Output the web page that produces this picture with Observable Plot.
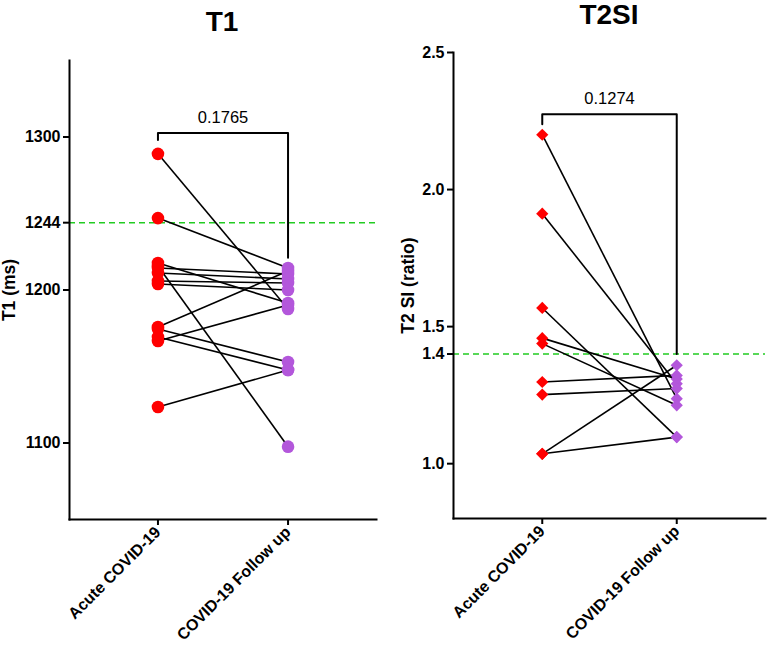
<!DOCTYPE html>
<html><head><meta charset="utf-8">
<script src="https://cdn.jsdelivr.net/npm/d3@7"></script>
<script src="https://cdn.jsdelivr.net/npm/@observablehq/plot@0.6"></script>
<style>
body{margin:0;background:#fff;}
#wrap{position:relative;width:767px;height:653px;font-family:"Liberation Sans",Arial,sans-serif;overflow:hidden;}
.panel{position:absolute;top:0;}
.title{position:absolute;font-weight:bold;font-size:28px;line-height:1;transform:translateX(-50%);white-space:nowrap;}
</style></head><body>
<div id="wrap">
  <div class="title" id="t1title" style="left:222px;top:8px;">T1</div>
  <div class="title" id="t2title" style="left:609px;top:1px;">T2SI</div>
</div>
<script>
// ---- data ----
const categories = ["Acute COVID-19", "COVID-19 Follow up"];

const t1Acute  = [1289, 1247, 1217.6, 1215.7, 1214.4, 1211.1, 1205.9, 1203.9, 1175.8, 1174.5, 1169.3, 1166.7, 1123.5];
const t1Follow = [1187.6, 1214.4, 1191.5, 1097.6, 1210.5, 1207.2, 1204.6, 1200, 1212.4, 1152.9, 1147.7, 1190.2, 1147.7];
const t1Ticks = [1100, 1200, 1244, 1300];
const t1Ref = 1244;
const t1P = "0.1765";
const t1Bracket = [1298, 1302.6, 1221]; // left leg end, top, right leg end

const t2Acute  = [2.20, 1.912, 1.568, 1.458, 1.438, 1.298, 1.252, 1.036, 1.036];
const t2Follow = [1.237, 1.292, 1.097, 1.309, 1.213, 1.322, 1.274, 1.359, 1.097];
const t2Ticks = [1.0, 1.4, 1.5, 2.0, 2.5];
const t2Ref = 1.4;
const t2P = "0.1274";
const t2Bracket = [2.238, 2.275, 1.40];

const RED = "#ff0000", PURPLE = "#b357db", GREEN = "#22cc22";

function panel(o) {
  const pairs = o.acute.map((a, i) => ({a, f: o.follow[i]}));
  const pts = [
    ...o.acute.map(v => ({x: 0, y: v, g: "a"})),
    ...o.follow.map(v => ({x: 1, y: v, g: "f"}))
  ];
  const br = [
    {x: 0, y: o.bracket[0]}, {x: 0, y: o.bracket[1]},
    {x: 1, y: o.bracket[1]}, {x: 1, y: o.bracket[2]}
  ];
  return Plot.plot({
    width: o.width, height: 653,
    marginLeft: o.marginLeft, marginRight: o.marginRight,
    marginTop: o.marginTop, marginBottom: o.marginBottom,
    style: {fontFamily: '"Liberation Sans", Arial, sans-serif', fontSize: "16px", background: "transparent", overflow: "visible"},
    x: {domain: [-o.pad, 1 + o.pad]},
    y: {domain: o.yDomain},
    marks: [
      Plot.ruleY([o.ref], {stroke: GREEN, strokeWidth: 1.5, strokeDasharray: "6,4"}),
      Plot.link(pairs, {x1: () => 0, x2: () => 1, y1: "a", y2: "f", stroke: "black", strokeWidth: 1.6}),
      Plot.dot(pts, {x: "x", y: "y", r: o.r, symbol: o.symbol, fill: d => d.g === "a" ? RED : PURPLE, stroke: "none"}),
      Plot.line(br, {x: "x", y: "y", stroke: "black", strokeWidth: 2}),
      Plot.text([o.p], {x: () => 0.5, y: () => o.bracket[1], dy: -15, fontSize: 16.5, fontWeight: "normal", fill: "black"}),
      Plot.frame({anchor: "left", strokeWidth: 2}),
      Plot.frame({anchor: "bottom", strokeWidth: 2}),
      Plot.axisY({ticks: o.ticks, tickFormat: o.fmt, tickSize: 6, tickPadding: 3, strokeWidth: 2, fontWeight: "bold", fontSize: 16, label: null}),
      Plot.axisX({ticks: [0, 1], tickFormat: i => categories[i], tickRotate: -45, tickSize: 6, tickPadding: 4, strokeWidth: 2, fontWeight: "bold", fontSize: 16, label: null}),
      Plot.text([o.yLabel], {frameAnchor: "left", dx: o.labelDx, rotate: -90, textAnchor: "middle", fontWeight: "bold", fontSize: 17.5, fill: "black"})
    ]
  });
}

const p1 = panel({
  acute: t1Acute, follow: t1Follow, ticks: t1Ticks, fmt: d => String(d), ref: t1Ref,
  yDomain: [1050, 1350], p: t1P, bracket: t1Bracket, yLabel: "T1 (ms)",
  width: 384, marginLeft: 69, marginRight: 8, marginTop: 60, marginBottom: 134,
  pad: 0.68, r: 6.3, symbol: "circle", labelDx: -60
});
const p2 = panel({
  acute: t2Acute, follow: t2Follow, ticks: t2Ticks, fmt: d3.format(".1f"), ref: t2Ref,
  yDomain: [0.8, 2.5], p: t2P, bracket: t2Bracket, yLabel: "T2 SI (ratio)",
  width: 383, marginLeft: 69, marginRight: 2, marginTop: 52, marginBottom: 135,
  pad: 0.66, r: 5.5, symbol: "diamond2", labelDx: -45
});
p1.classList.add("panel"); p1.style.left = "0px";
p2.classList.add("panel"); p2.style.left = "384px";
const wrap = document.getElementById("wrap");
wrap.appendChild(p1);
wrap.appendChild(p2);
</script>
</body></html>
